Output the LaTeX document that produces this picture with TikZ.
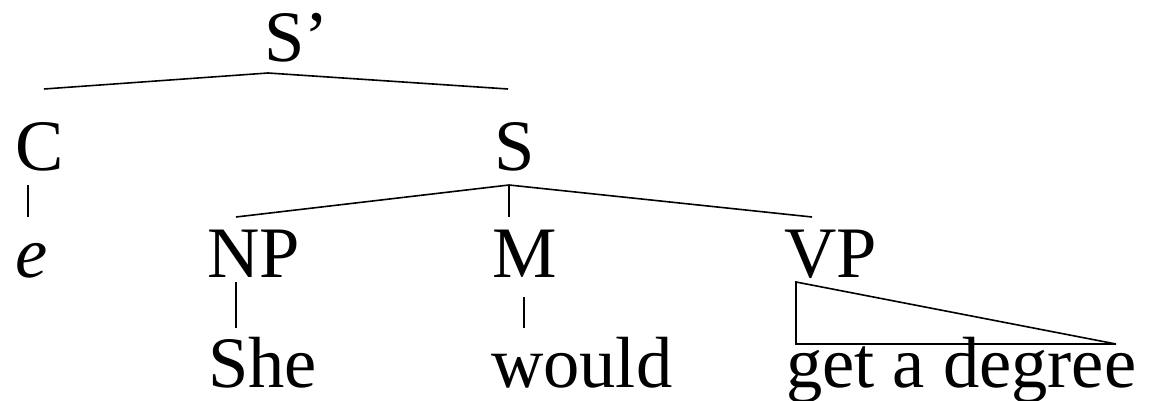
\documentclass[tikz,border=0pt]{standalone}
\usepackage{fontspec}
\setmainfont{Liberation Serif}
\begin{document}
\begin{tikzpicture}[x=1pt,y=-1pt,
  lbl/.style={anchor=base west,inner sep=0pt,outer sep=0pt,font=\fontsize{72.5}{86}\selectfont},
  edge/.style={line width=1.6pt,line join=miter}]
\useasboundingbox (0,0) rectangle (1151,401);
% nodes
\node[lbl] (Sp) at (264,62) {S’};
\node[lbl] (C) at (15,171) {C};
\node[lbl] (S) at (494,171) {S};
\node[lbl] (e) at (15,277) {\textit{e}};
\node[lbl] (NP) at (207,277) {NP};
\node[lbl] (M) at (492,277) {M};
\node[lbl] (VP) at (784,277) {VP};
\node[lbl] (She) at (208,387) {She};
\node[lbl] (would) at (491,387) {would};
\node[lbl] (get) at (786,387) {get a degree};
% attachment points
\coordinate (Sp-foot) at (268,73);
\coordinate (C-top) at (44,89);
\coordinate (S-top) at (508,89);
\coordinate (S-foot) at (509,185);
\coordinate (NP-top) at (236,217);
\coordinate (M-top) at (509,217);
\coordinate (VP-top) at (812,217);
\coordinate (C-foot) at (28,185);
\coordinate (e-top) at (28,217);
\coordinate (NP-foot) at (236,282);
\coordinate (She-top) at (236,328);
\coordinate (M-foot) at (524,297);
\coordinate (would-top) at (524,328);
\coordinate (VP-foot) at (796,282);
\coordinate (get-tl) at (796,344);
\coordinate (get-tr) at (1116,344);
% connectors
\draw[edge] (C-top) -- (Sp-foot) -- (S-top);
\draw[edge] (NP-top) -- (S-foot) -- (VP-top);
\draw[edge] (S-foot) -- (M-top);
\draw[edge] (C-foot) -- (e-top);
\draw[edge] (NP-foot) -- (She-top);
\draw[edge] (M-foot) -- (would-top);
\draw[edge] (VP-foot) -- (get-tl) -- (get-tr) -- cycle;
\end{tikzpicture}
\end{document}
